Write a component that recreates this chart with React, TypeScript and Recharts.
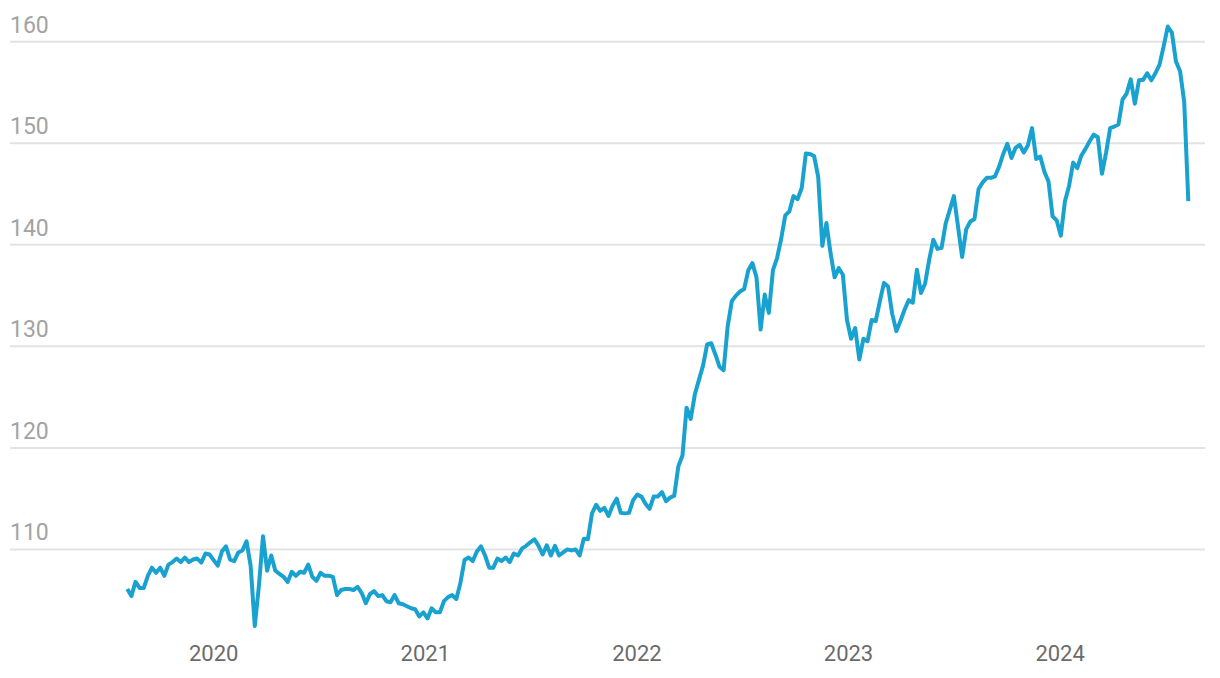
import { LineChart, Line, XAxis, YAxis, ReferenceLine } from "recharts";

// weekly closes (Aug 2019 – Aug 2024)
const VALUES = [
  106.1, 105.4, 106.8, 106.2, 106.2, 107.4, 108.2, 107.7, 108.2, 107.4,
  108.5, 108.75, 109.1, 108.75, 109.2, 108.75, 109.0, 109.1, 108.7, 109.6,
  109.5, 108.95, 108.4, 109.8, 110.3, 109.0, 108.85, 109.7, 109.9, 110.8,
  108.35, 102.45, 106.4, 111.3, 107.9, 109.4, 107.9, 107.6, 107.3, 106.8,
  107.8, 107.4, 107.8, 107.7, 108.5, 107.3, 106.9, 107.7, 107.4, 107.4,
  107.3, 105.5, 106.0, 106.1, 106.1, 106.0, 106.3, 105.7, 104.7, 105.6,
  105.9, 105.4, 105.5, 104.9, 104.8, 105.5, 104.7, 104.6, 104.4, 104.2,
  104.1, 103.4, 103.8, 103.2, 104.2, 103.8, 103.8, 104.9, 105.3, 105.5,
  105.1, 106.7, 108.95, 109.2, 108.85, 109.8, 110.3, 109.4, 108.2, 108.2,
  109.1, 108.85, 109.2, 108.75, 109.6, 109.4, 110.1, 110.35, 110.7, 111.0,
  110.35, 109.5, 110.4, 109.4, 110.35, 109.4, 109.7, 110.0, 109.9, 110.0,
  109.4, 111.05, 111.0, 113.55, 114.4, 113.8, 114.1, 113.3, 114.3, 115.0,
  113.6, 113.55, 113.6, 114.85, 115.4, 115.2, 114.5, 114.0, 115.2, 115.2,
  115.65, 114.75, 115.1, 115.3, 118.2, 119.25, 123.95, 122.85, 125.25, 126.7,
  128.1, 130.2, 130.3, 129.2, 128.0, 127.65, 132.0, 134.45, 135.0, 135.4,
  135.65, 137.5, 138.2, 136.8, 131.65, 135.1, 133.3, 137.5, 138.7, 140.6,
  142.9, 143.3, 144.8, 144.5, 145.6, 149.0, 148.95, 148.75, 146.7, 139.9,
  142.15, 139.2, 136.8, 137.7, 137.05, 132.6, 130.75, 131.8, 128.7, 130.75,
  130.5, 132.6, 132.5, 134.45, 136.25, 135.9, 133.2, 131.5, 132.5, 133.6,
  134.55, 134.3, 137.55, 135.25, 136.2, 138.55, 140.5, 139.6, 139.7, 142.1,
  143.45, 144.8, 141.8, 138.8, 141.55, 142.3, 142.55, 145.5, 146.15, 146.6,
  146.6, 146.75, 147.7, 148.95, 149.95, 148.55, 149.55, 149.85, 149.1, 149.8,
  151.5, 148.45, 148.7, 147.2, 146.25, 142.8, 142.4, 140.9, 144.3, 145.8,
  148.1, 147.55, 148.8, 149.45, 150.2, 150.85, 150.6, 147.0, 149.05, 151.5,
  151.65, 151.85, 154.3, 154.9, 156.3, 153.9, 156.2, 156.25, 156.9, 156.2,
  156.9, 157.75, 159.55, 161.5, 160.9, 158.05, 157.1, 154.1, 144.3,
];

const START_YEAR = 2019.5916;
const STEP_YEARS = 0.019435;

const Y_TICKS = [110, 120, 130, 140, 150, 160];
const YEAR_TICKS = [2020, 2021, 2022, 2023, 2024];

const data = VALUES.map((v, i) => ({ t: START_YEAR + i * STEP_YEARS, v }));

const FONT = "Roboto, 'Noto Sans', sans-serif";

function YTick({ y = 0, payload }: { x?: number; y?: number; payload?: { value: number } }) {
  return (
    <text x={10} y={y - 9} textAnchor="start" fill="#a3a3a3" fontSize={23} fontFamily={FONT}>
      {payload?.value}
    </text>
  );
}

export default function App() {
  return (
    <div style={{ position: "absolute", left: 0, top: 0, background: "#fff" }}>
      <LineChart
        width={1220}
        height={678}
        data={data}
        margin={{ top: 10, right: 15, bottom: 13, left: 0 }}
      >
        {Y_TICKS.map((t) => (
          <ReferenceLine key={t} y={t} stroke="#e3e3e3" strokeWidth={2} ifOverflow="extendDomain" />
        ))}
        <XAxis
          type="number"
          dataKey="t"
          domain={[2019.0373, 2024.6847]}
          ticks={YEAR_TICKS}
          interval={0}
          height={30}
          axisLine={false}
          tickLine={false}
          tickSize={6}
          tickMargin={4}
          tickFormatter={(v) => String(Math.round(v))}
          tick={{ fill: "#6b6b6b", fontSize: 22, fontFamily: FONT }}
        />
        <YAxis
          type="number"
          domain={[101.57, 163.13]}
          ticks={Y_TICKS}
          interval={0}
          width={10}
          axisLine={false}
          tickLine={false}
          tick={<YTick />}
        />
        <Line
          type="linear"
          dataKey="v"
          stroke="#19a2cf"
          strokeWidth={4}
          strokeLinejoin="round"
          dot={false}
          isAnimationActive={false}
        />
      </LineChart>
    </div>
  );
}
